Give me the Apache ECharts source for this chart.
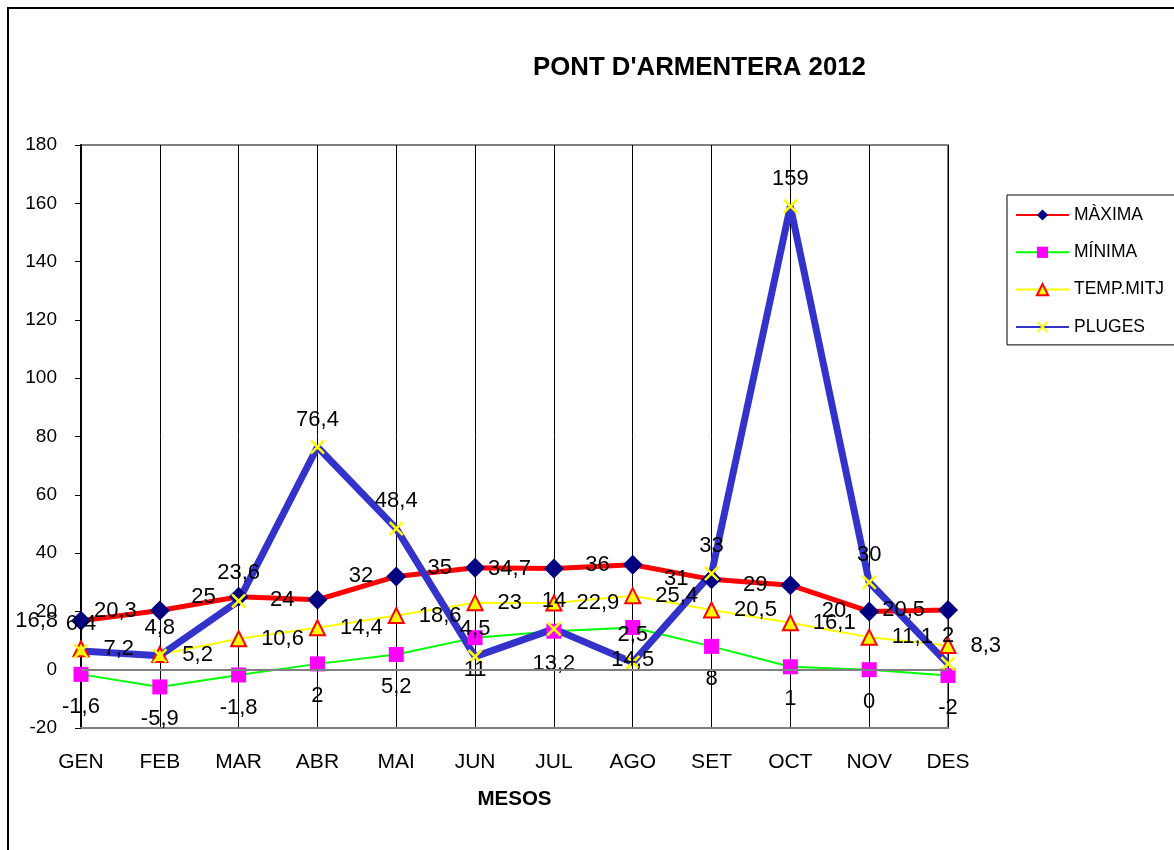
<!DOCTYPE html>
<html>
<head>
<meta charset="utf-8">
<script src="https://cdn.jsdelivr.net/npm/echarts@6/dist/echarts.min.js"></script>
<style>
  html, body { margin: 0; padding: 0; background: #fff; }
  #grafic { width: 1174px; height: 850px; }
</style>
</head>
<body>
<div id="grafic"></div>
<script>
// dades del grafic
var mesos = ['GEN', 'FEB', 'MAR', 'ABR', 'MAI', 'JUN', 'JUL', 'AGO', 'SET', 'OCT', 'NOV', 'DES'];
var maxima = [16.8, 20.3, 25, 24, 32, 35, 34.7, 36, 31, 29, 20, 20.5];
var minima = [-1.6, -5.9, -1.8, 2, 5.2, 11, 13.2, 14.5, 8, 1, 0, -2];
var tempMitj = [7.2, 5.2, 10.6, 14.4, 18.6, 23, 22.9, 25.4, 20.5, 16.1, 11.1, 8.3];
var pluges = [6.4, 4.8, 23.6, 76.4, 48.4, 4.5, 14, 2.5, 33, 159, 30, 2];

var FONT = '"Liberation Sans", Arial, sans-serif';

// 12.5 -> "12,5"
function coma(p) {
    return String(p.value).replace('.', ',');
}

var creu = 'path://M0,1.2 L1.2,0 L10,8.8 L8.8,10 Z M8.8,0 L10,1.2 L1.2,10 L0,8.8 Z';

var myChart = echarts.init(document.getElementById('grafic'));

myChart.setOption({
    animation: false,
    backgroundColor: '#fff',
    textStyle: { fontFamily: FONT },
    title: {
        text: "PONT D'ARMENTERA 2012",
        left: 528,
        top: 50,
        textStyle: { fontSize: 25.8, fontWeight: 'bold', color: '#000', fontFamily: FONT }
    },
    graphic: [{
        type: 'rect',
        shape: { x: 8, y: 8, width: 1190, height: 870 },
        style: { fill: 'none', stroke: '#000', lineWidth: 2 },
        silent: true,
        z: 100
    }],
    legend: {
        orient: 'vertical',
        left: 1007,
        top: 195,
        padding: [11, 20, 9, 8],
        itemWidth: 53,
        itemHeight: 14,
        itemGap: 19.3,
        borderColor: '#000',
        borderWidth: 1,
        backgroundColor: '#fff',
        textStyle: { fontSize: 17.5, color: '#000', fontFamily: FONT },
        data: ['MÀXIMA', 'MÍNIMA', 'TEMP.MITJ', 'PLUGES']
    },
    grid: {
        left: 81,
        right: 226,
        top: 145,
        bottom: 122,
        show: true,
        borderColor: '#808080',
        borderWidth: 2
    },
    xAxis: {
        type: 'category',
        data: mesos,
        boundaryGap: false,
        name: 'MESOS',
        nameLocation: 'middle',
        nameGap: 61,
        nameTextStyle: { fontSize: 20.5, fontWeight: 'bold', color: '#000', fontFamily: FONT },
        axisLine: { onZero: false, lineStyle: { color: '#808080', width: 2 } },
        axisTick: { show: false },
        axisLabel: { fontSize: 21, color: '#000', margin: 24, fontFamily: FONT },
        splitLine: { show: true, lineStyle: { color: '#000', width: 1 } }
    },
    yAxis: {
        type: 'value',
        min: -20,
        max: 180,
        interval: 20,
        axisLine: { show: true, lineStyle: { color: '#000', width: 2 } },
        axisTick: { show: true, length: 6, lineStyle: { color: '#000', width: 1 } },
        axisLabel: { fontSize: 19, color: '#000', margin: 24, fontFamily: FONT },
        splitLine: { show: false }
    },
    series: [
        {
            name: 'MÀXIMA',
            type: 'line',
            data: maxima,
            symbol: 'diamond',
            symbolSize: 20,
            lineStyle: { color: '#ff0000', width: 5 },
            itemStyle: { color: '#000080' },
            label: { show: true, position: 'left', distance: 13, formatter: coma,
                     fontSize: 22, color: '#000', fontFamily: FONT }
        },
        {
            name: 'MÍNIMA',
            type: 'line',
            data: minima,
            symbol: 'rect',
            symbolSize: 15,
            lineStyle: { color: '#00ff00', width: 2 },
            itemStyle: { color: '#ff00ff' },
            label: { show: true, position: 'bottom', distance: 14, formatter: coma,
                     fontSize: 22, color: '#000', fontFamily: FONT },
            markLine: {
                silent: true,
                symbol: 'none',
                label: { show: false },
                lineStyle: { color: '#808080', width: 2, type: 'solid' },
                data: [{ yAxis: 0 }]
            }
        },
        {
            name: 'TEMP.MITJ',
            type: 'line',
            data: tempMitj,
            symbol: 'triangle',
            symbolSize: 15,
            lineStyle: { color: '#ffff00', width: 2 },
            itemStyle: { color: '#ffff00', borderColor: '#ff0000', borderWidth: 2 },
            label: { show: true, position: 'right', distance: 14, formatter: coma,
                     fontSize: 22, color: '#000', fontFamily: FONT }
        },
        {
            name: 'PLUGES',
            type: 'line',
            data: pluges,
            symbol: creu,
            symbolSize: 15,
            lineStyle: { color: '#3333cc', width: 7 },
            itemStyle: { color: '#ffff00' },
            label: { show: true, position: 'top', distance: 9, formatter: coma,
                     fontSize: 22, color: '#000', fontFamily: FONT }
        }
    ]
});
</script>
</body>
</html>
